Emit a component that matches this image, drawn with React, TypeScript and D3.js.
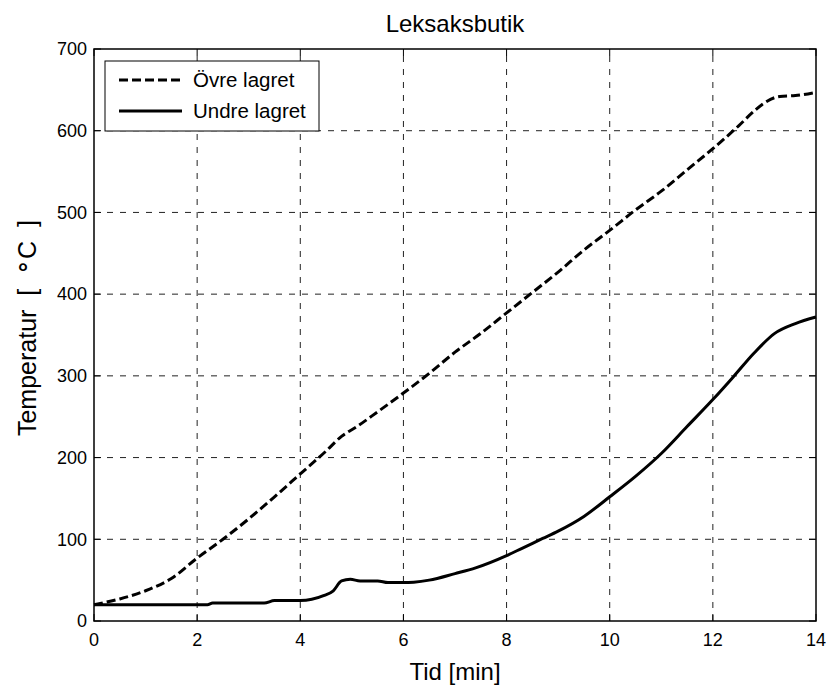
import React from 'react';
import * as d3 from 'd3';

const xTicks = [0, 2, 4, 6, 8, 10, 12, 14];
const yTicks = [0, 100, 200, 300, 400, 500, 600, 700];

const upperTime = [0, 0.5, 1, 1.5, 2, 2.5, 3, 3.5, 4, 4.5, 4.8, 5.1, 5.5, 6, 6.5, 7, 7.5, 8, 8.5, 9, 9.5, 10, 10.5, 11, 11.5, 12, 12.5, 12.8, 13, 13.3, 13.6, 14];
const upperTemp = [20, 27, 37, 52, 77, 100, 125, 152, 180, 208, 226, 238, 256, 279, 303, 329, 352, 377, 402, 427, 454, 478, 503, 526, 552, 578, 606, 624, 634, 642, 643, 647];

const lowerTime = [0, 1, 2, 2.2, 2.3, 3.3, 3.5, 4, 4.45, 4.64, 4.8, 4.97, 5.16, 5.5, 5.7, 6, 6.2, 6.5, 7, 7.4, 8, 8.3, 8.7, 9, 9.5, 10, 10.5, 11, 11.5, 12, 12.4, 12.8, 13.2, 13.6, 14];
const lowerTemp = [20, 20, 20, 20, 22, 22, 25, 25, 31, 37, 49, 51, 49, 49, 47, 47, 47.5, 50, 58, 65, 80, 89, 101, 110, 128, 152, 177, 205, 238, 271, 299, 328, 352, 364, 372];

const seriesNames = ['Övre lagret', 'Undre lagret'];

const width = 832;
const height = 687;
const margin = { top: 49, right: 16, bottom: 66, left: 94 };
const font = '"Liberation Sans", Arial, Helvetica, sans-serif';

export default function App() {
    const x = d3.scaleLinear()
        .domain([0, 14])
        .range([margin.left, width - margin.right]);
    const y = d3.scaleLinear()
        .domain([0, 700])
        .range([height - margin.bottom, margin.top]);

    const line = d3.line<[number, number]>()
        .x(d => x(d[0]))
        .y(d => y(d[1]))
        .curve(d3.curveMonotoneX);

    const upper = upperTime.map((t, i) => [t, upperTemp[i]] as [number, number]);
    const lower = lowerTime.map((t, i) => [t, lowerTemp[i]] as [number, number]);

    const x0 = margin.left, x1 = width - margin.right;
    const y0 = height - margin.bottom, y1 = margin.top;
    const tickLen = 7;

    return (
        <svg width={width} height={height} style={{ position: 'absolute', left: 0, top: 0, background: '#fff' }}
            fontFamily={font}>
            <rect x={0} y={0} width={width} height={height} fill="#fff" />

            {/* grid */}
            {xTicks.slice(1, -1).map(t => (
                <line key={'gx' + t} x1={x(t)} x2={x(t)} y1={y0} y2={y1}
                    stroke="#222" strokeWidth={1} strokeDasharray="6,7" />
            ))}
            {yTicks.slice(1, -1).map(t => (
                <line key={'gy' + t} x1={x0} x2={x1} y1={y(t)} y2={y(t)}
                    stroke="#222" strokeWidth={1} strokeDasharray="6,7" />
            ))}

            {/* ticks inward on all sides */}
            {xTicks.map(t => (
                <g key={'tx' + t}>
                    <line x1={x(t)} x2={x(t)} y1={y0} y2={y0 - tickLen} stroke="#000" />
                    <line x1={x(t)} x2={x(t)} y1={y1} y2={y1 + tickLen} stroke="#000" />
                    <text x={x(t)} y={646} fontSize={18} textAnchor="middle">{t}</text>
                </g>
            ))}
            {yTicks.map(t => (
                <g key={'ty' + t}>
                    <line x1={x0} x2={x0 + tickLen} y1={y(t)} y2={y(t)} stroke="#000" />
                    <line x1={x1} x2={x1 - tickLen} y1={y(t)} y2={y(t)} stroke="#000" />
                    <text x={87} y={y(t)} dy="0.35em" fontSize={18} textAnchor="end">{t}</text>
                </g>
            ))}

            {/* data */}
            <path d={line(upper) ?? ''} fill="none" stroke="#000" strokeWidth={3} strokeDasharray="9,4" />
            <path d={line(lower) ?? ''} fill="none" stroke="#000" strokeWidth={3} />

            {/* frame */}
            <rect x={x0} y={y1} width={x1 - x0} height={y0 - y1} fill="none" stroke="#000" strokeWidth={1.5} />

            {/* legend */}
            <rect x={105} y={61} width={214} height={70} fill="#fff" stroke="#000" strokeWidth={1} />
            <line x1={119} x2={182} y1={80} y2={80} stroke="#000" strokeWidth={3} strokeDasharray="9,4" />
            <text x={193} y={80} dy="0.35em" fontSize={20.5}>{seriesNames[0]}</text>
            <line x1={119} x2={182} y1={111} y2={111} stroke="#000" strokeWidth={3} />
            <text x={193} y={111} dy="0.35em" fontSize={20.5}>{seriesNames[1]}</text>

            {/* titles */}
            <text x={(x0 + x1) / 2} y={32} fontSize={24} textAnchor="middle">Leksaksbutik</text>
            <text x={(x0 + x1) / 2} y={680} fontSize={24} textAnchor="middle">Tid [min]</text>
            <text transform={`translate(36,328) rotate(-90)`} fontSize={25} textAnchor="middle"
                style={{ whiteSpace: 'pre' }}>
                {'Temperatur  [  '}
                <tspan dy="-0.25em">∘</tspan>
                <tspan dy="0.25em">{'C  ]'}</tspan>
            </text>
        </svg>
    );
}
